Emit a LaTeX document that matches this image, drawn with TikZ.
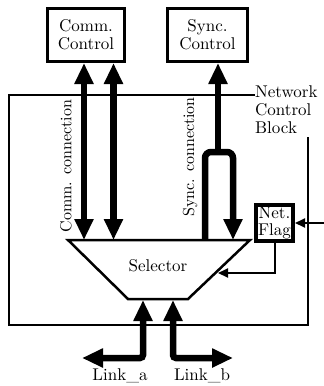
\documentclass[tikz,border=0pt]{standalone}
\usepackage{fontspec}
\setmainfont{lmroman10-regular.otf}
\usetikzlibrary{arrows.meta}
\begin{document}
\begin{tikzpicture}[x=1pt,y=-1pt,
  lbl/.style={font=\fontsize{17}{18}\selectfont},
  rlbl/.style={font=\fontsize{16}{18}\selectfont,rotate=90},
  box/.style={draw,line width=3pt,minimum width=77pt,minimum height=53pt,align=center,inner sep=0pt,lbl},
  fat/.style={line width=6.5pt},
  thinl/.style={line width=2pt},
  bigtip/.tip={Triangle[width=18pt,length=21pt]},
  smalltip/.tip={Triangle[width=9pt,length=10pt]},
  frame/.style={line width=2.5pt}]
\useasboundingbox[fill=white] (0,0) rectangle (324,386);
% top boxes
\node[box] (cc) at (86,35) {Comm.\\Control};
\node[box,minimum width=80pt] (sc) at (207.5,35) {Sync.\\Control};
% network control block
\node[lbl,anchor=west,align=left,inner sep=0pt] (ncb) at (255,110) {Network\\Control\\Block};
\coordinate (ftop) at (9,95);
\coordinate (fbl) at (9,325);
\coordinate (fbr) at (308,325);
\coordinate (fre) at (308,137);
\draw[frame] (ncb.west |- ftop) -- (ftop) -- (fbl) -- (fbr) -- (fre);
% selector
\coordinate (s1) at (68,240);
\coordinate (s2) at (250,240);
\coordinate (s3) at (188,299);
\coordinate (s4) at (128,299);
\draw[frame,line join=miter] (s1) -- (s2) -- (s3) -- (s4) -- cycle;
\node[lbl] (sel) at (158,266) {Selector};
% comm connections
\coordinate (ca1) at (84,240);
\coordinate (ca2) at (113.5,240);
\draw[fat,bigtip-bigtip] (ca1) -- (ca1 |- cc.south);
\draw[fat,bigtip-bigtip] (ca2) -- (ca2 |- cc.south);
\node[rlbl] (ccl) at (66,166) {Comm. connection};
% sync connection
\coordinate (sl) at (205,240);
\coordinate (sr) at (233,240);
\coordinate (stop) at (218,152);
\draw[fat,rounded corners=6pt,-bigtip] (sl) |- (stop) -| (sr);
\draw[fat,-bigtip] (stop) -- (stop |- sc.south);
\node[rlbl] (scl) at (190,157) {Sync. connection};
% net flag
\node[draw,line width=4pt,minimum width=37pt,minimum height=36pt,inner sep=0pt,
      align=center,font=\fontsize{17}{17}\selectfont] (nf) at (274.5,223) {Net.\\Flag};
\coordinate (ein) at (324,223);
\draw[thinl,-smalltip] (ein) -- (nf.east);
\coordinate (nfs) at (218,273);
\draw[thinl,-smalltip] (nf.south) |- (nfs);
% links
\coordinate (la) at (143,300);
\coordinate (lae) at (82,358);
\coordinate (lb) at (173,300);
\coordinate (lbe) at (233,358);
\draw[fat,bigtip-bigtip,rounded corners=3pt] (lae) -| (la);
\draw[fat,bigtip-bigtip,rounded corners=3pt] (lbe) -| (lb);
\node[lbl] (lal) at (120,376) {Link\_a};
\node[lbl] (lbl) at (202,376) {Link\_b};
\end{tikzpicture}
\end{document}
